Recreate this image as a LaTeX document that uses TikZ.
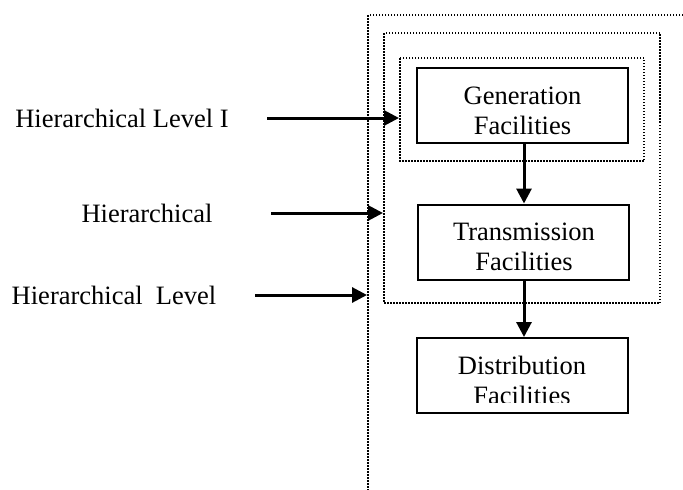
\documentclass[tikz,border=0pt]{standalone}
\usepackage{fontspec}
\setmainfont{Liberation Serif}
\usetikzlibrary{arrows.meta}
\begin{document}
\begin{tikzpicture}[x=1pt,y=-1pt,
  txt/.style={font=\fontsize{26.5}{30}\selectfont, inner sep=0pt, align=center},
  facility/.style={draw, line width=2pt, minimum width=211pt, minimum height=75pt,
    inner sep=0pt},
  frame/.style={line width=1.5pt, dash pattern=on 1.5pt off 1.5pt},
  flow/.style={line width=3pt, -{Triangle[length=15pt,width=15pt]}}]
\useasboundingbox (0,0) rectangle (683,490);

% nested dotted frames for the hierarchical levels
\draw[frame] (683,15) -- (368,15) -- (368,490);
\draw[frame] (384,33) rectangle (660,303);
\draw[frame] (400,58) rectangle (644,161);

% facilities
\node[facility] (gen) at (522.5,105.5) {};
\node[txt] (genText) at (522.5,111) {Generation\\Facilities};
\node[facility] (trans) at (523.5,242) {};
\node[txt] (transText) at (524,247) {Transmission\\Facilities};
\node[facility] (dist) at (522,375.5) {};
\begin{scope}
  \clip (dist.south west) ++(0,-12) rectangle (dist.north east);
  \node[txt] (distText) at (522,380.5) {Distribution\\Facilities};
\end{scope}

\draw[flow] (gen.south -| 524,0) -- (trans.north -| 524,0);
\draw[flow] (trans.south -| 524,0) -- (dist.north -| 524,0);

% level labels
\node[txt] (lvA) at (122,118) {Hierarchical Level I};
\node[txt] (lvB) at (147,213) {Hierarchical};
\node[txt] (lvC) at (114,295) {Hierarchical\ \ Level};

\coordinate (aA) at (267,118); \coordinate (bA) at (399,118);
\coordinate (aB) at (271,213); \coordinate (bB) at (383,213);
\coordinate (aC) at (255,295); \coordinate (bC) at (367,295);
\draw[flow] (aA) -- (bA);
\draw[flow] (aB) -- (bB);
\draw[flow] (aC) -- (bC);
\end{tikzpicture}
\end{document}
